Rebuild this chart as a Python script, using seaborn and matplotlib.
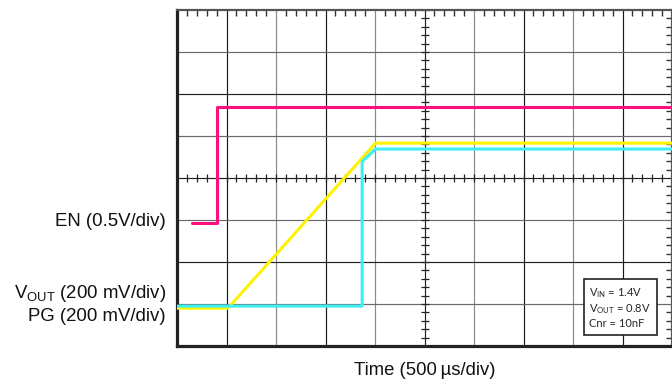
import numpy as np
import pandas as pd
import matplotlib
matplotlib.use("Agg")
import matplotlib.pyplot as plt
import seaborn as sns

# ---- trace data (x in div, y in div from bottom) ----
en_t = [0.30, 0.81, 0.81, 10.0]
en_v = [2.94, 2.94, 5.70, 5.70]
vout_t = [0.0, 1.03, 4.01, 10.0]
vout_v = [0.90, 0.90, 4.83, 4.83]
pg_t = [0.0, 3.74, 3.74, 4.01, 10.0]
pg_v = [0.95, 0.95, 4.39, 4.69, 4.69]

channel_names = ["EN", "VOUT", "PG"]
channel_colors = ["#FF0F7B", "#FFF200", "#3DEFF5"]

channel_labels = ["EN (0.5V/div)", "V$_{OUT}$ (200 mV/div)", "PG (200 mV/div)"]
label_pos = [2.96, 1.26, 0.70]
x_label = "Time (500\u2009\u00b5s/div)"
info_lines = ["V$_{IN}$ = 1.4V", "V$_{OUT}$ = 0.8V", "Cnr = 10nF"]

n_xdiv, n_ydiv = 10, 8

sns.set_theme(style="white")
plt.rcParams["font.family"] = ["Liberation Sans", "DejaVu Sans"]
plt.rcParams["mathtext.default"] = "regular"

df = pd.concat([
    pd.DataFrame({"t": en_t, "v": en_v, "ch": "EN"}),
    pd.DataFrame({"t": vout_t, "v": vout_v, "ch": "VOUT"}),
    pd.DataFrame({"t": pg_t, "v": pg_v, "ch": "PG"}),
], ignore_index=True)

fig = plt.figure(figsize=(6.72, 3.82), dpi=100)
ax = fig.add_axes([177 / 672, 1 - 346 / 382, 495 / 672, 336 / 382])

# ---- scope graticule ----
for i in range(1, n_xdiv):
    if i == n_xdiv // 2:
        c = "#222222"
    else:
        c = "#1a1a1a" if i % 2 else "#8a8a8a"
    ax.axvline(i, color=c, lw=0.85, zorder=1)
for j in range(1, n_ydiv):
    if j == n_ydiv // 2:
        c = "#222222"
    else:
        c = "#222222" if j % 2 == 0 else "#6a6a6a"
    ax.axhline(j, color=c, lw=0.85, zorder=1)

# minor ticks across the centre lines
xm = np.arange(0, n_xdiv + 0.01, 0.2)
ym = np.arange(0, n_ydiv + 0.01, 0.2)
ax.plot(xm, np.full_like(xm, n_ydiv / 2), ls="none", marker="|", ms=6,
        mew=0.9, color="#222222", zorder=1)
ax.plot(np.full_like(ym, n_xdiv / 2), ym, ls="none", marker="_", ms=6,
        mew=0.9, color="#222222", zorder=1)

# ---- traces ----
sns.lineplot(data=df, x="t", y="v", hue="ch", hue_order=channel_names,
             palette=channel_colors, sort=False, estimator=None,
             lw=2.2, legend=False, ax=ax, zorder=3)

ax.set_xlim(0, n_xdiv)
ax.set_ylim(0, n_ydiv)
ax.set_xticks(np.arange(0, n_xdiv + 1, 1))
ax.set_yticks(np.arange(0, n_ydiv + 1, 1))
ax.set_xticks(xm, minor=True)
ax.set_yticks(ym, minor=True)
ax.tick_params(which="both", direction="in", top=True, right=True,
               labelbottom=False, labelleft=False, color="#333333")
ax.tick_params(which="major", length=0)
ax.tick_params(which="minor", length=4.5, width=1.0)
ax.set_xlabel(x_label, fontsize=13.3, labelpad=11.5, color="#111111")
ax.set_ylabel("")

for side in ["left", "bottom"]:
    ax.spines[side].set_color("#222222")
    ax.spines[side].set_linewidth(2.3)
ax.spines["top"].set_color("#555555")
ax.spines["top"].set_linewidth(1.6)
ax.spines["right"].set_color("#555555")
ax.spines["right"].set_linewidth(1.6)

for lab, y in zip(channel_labels, label_pos):
    ax.text(-0.22, y, lab, ha="right", va="center", fontsize=13.4,
            color="#111111", clip_on=False)

# ---- test conditions box ----
ax.text(8.33, 0.91, "\n".join(info_lines), ha="left", va="center",
        fontsize=8, family=["Lato", "DejaVu Sans"], linespacing=1.25,
        zorder=5,
        bbox=dict(boxstyle="square,pad=0.5", fc="white", ec="#222222", lw=1.2))

fig.savefig("out.png", dpi=100)
